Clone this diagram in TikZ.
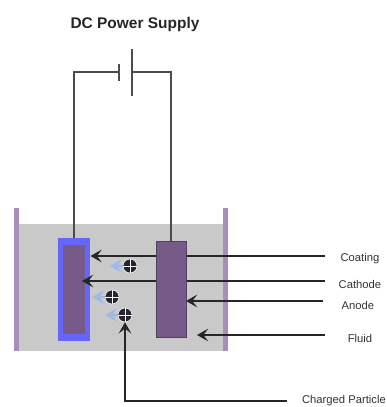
\documentclass[tikz,border=0pt]{standalone}
\usepackage{xcolor}
\usepackage{fontspec}
\setmainfont{Liberation Sans}
\usepackage{tikz}
\usetikzlibrary{arrows.meta}
\usetikzlibrary{positioning}
\definecolor{wallcol}{HTML}{A68FBC}
\definecolor{fluidcol}{HTML}{C9C9C9}
\definecolor{coatcol}{HTML}{6666FA}
\definecolor{metalcol}{HTML}{765A88}
\definecolor{darkcol}{HTML}{222630}
\definecolor{driftcol}{HTML}{9DB9E6}
\tikzset{>={Stealth[length=8pt,width=9pt,inset=3.5pt]}}
\tikzstyle{box} = [rectangle, draw=none, inner sep=0, outer sep=0]
\tikzstyle{plate} = [box, fill=black!70, minimum width=.04cm]
\tikzstyle{wire} = [-, draw=black!70, line width=1pt]
\tikzstyle{pointer} = [->, draw=black!85, line width=1pt]
\tikzstyle{lab} = [draw=none, inner sep=0, font=\fontsize{8}{9}\selectfont, text=black!80]
\tikzstyle{charge} = [circle, draw=white, fill=darkcol, line width=.4pt, inner sep=0, minimum size=.35cm,
  path picture={\draw [white, line width=.5pt] (path picture bounding box.north) -- (path picture bounding box.south)
  (path picture bounding box.west) -- (path picture bounding box.east);}]
\begin{document}
\begin{tikzpicture}
\useasboundingbox (0,0) rectangle (9.675,10.175);
\node [draw=none, inner sep=0, font=\fontsize{11}{13}\selectfont\bfseries, text=black!85] (title) at (3.375, 9.55) {DC Power Supply};
% tank
\node [box, fill=fluidcol, minimum width=5.1cm, minimum height=3.175cm] (fluid) at (3.025, 2.9875) {};
\node [box, fill=wallcol, minimum width=.125cm, minimum height=3.575cm] (wallL) at (.4125, 3.1875) {};
\node [box, fill=wallcol, minimum width=.125cm, minimum height=3.575cm] (wallR) at (5.6375, 3.1875) {};
% left electrode
\node [box, fill=coatcol, minimum width=.825cm, minimum height=2.575cm] (coat) at (1.85, 2.9375) {};
\node [box, fill=metalcol, minimum width=.575cm, minimum height=2.225cm] (anode) at (1.85, 2.9375) {};
% labels
\node [lab] (Lcoat) at (9, 3.7) {Coating};
\node [lab] (Lcath) at (9, 3.075) {Cathode};
\node [lab] (Lanod) at (8.95, 2.55) {Anode};
\node [lab] (Lflui) at (9, 1.725) {Fluid};
\node [lab] (Lchar) at (8.6, .15) {Charged Particle};
\coordinate (Scoat) at (8.125, 3.775);
\coordinate (Scath) at (8.125, 3.15);
\coordinate (Sanod) at (8.075, 2.65);
\coordinate (Sflui) at (8.125, 1.8);
\coordinate (Schar) at (7.175, .15);
\coordinate (Tcath) at (2.05, 3.15);
\coordinate (Tflui) at (4.925, 1.8);
% pointers run behind the right electrode
\draw [pointer] (Scoat) to (coat.east |- Scoat);
\draw [pointer] (Scath) to (Tcath);
\node [box, fill=metalcol, draw=metalcol!70!black, minimum width=.75cm, minimum height=2.4cm] (cathode) at (4.275, 2.95) {};
\draw [pointer] (Sanod) to (cathode.east |- Sanod);
\draw [pointer] (Sflui) to (Tflui);
% charges
\node [charge] (Q1) at (3.25, 3.525) {};
\node [charge] (Q2) at (2.8, 2.75) {};
\node [charge] (Q3) at (3.125, 2.3) {};
\coordinate (D1) at (2.75, 3.525);
\coordinate (D2) at (2.3, 2.75);
\coordinate (D3) at (2.625, 2.3);
\foreach \i in {1,2,3} {
  \draw [-{Stealth[length=8pt,width=9pt,inset=2.5pt]}, draw=driftcol, line width=1.6pt] (Q\i.west) to (D\i);
}
\draw [pointer] (Schar) -| (Q3.south);
% battery
\node [plate, minimum height=.425cm] (plateA) at (2.975, 8.375) {};
\node [plate, minimum height=1.175cm] (plateB) at (3.3, 8.375) {};
\draw [wire] (coat.north) |- (plateA);
\draw [wire] (cathode.north) |- (plateB);
\end{tikzpicture}
\end{document}
